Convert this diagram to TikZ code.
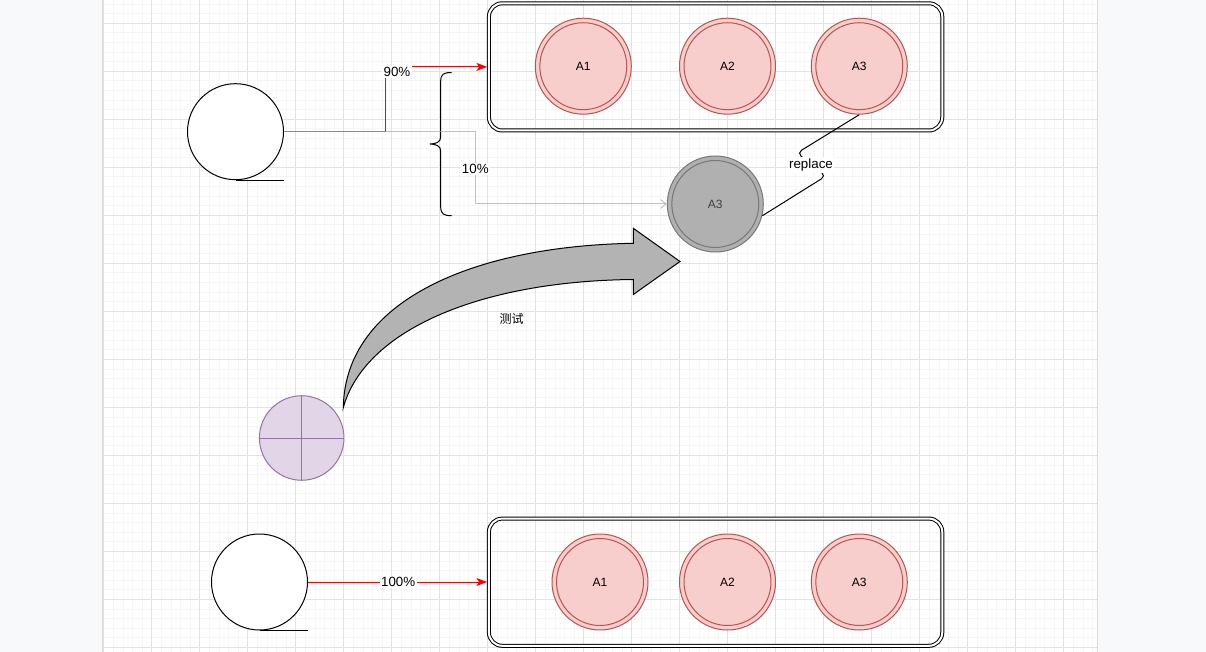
\documentclass[tikz,border=0pt]{standalone}
\usepackage{fontspec}
\setmainfont{Liberation Sans}
\newfontfamily\cjk{Noto Sans CJK SC}
\usetikzlibrary{arrows.meta,calc}
\definecolor{pagebg}{HTML}{F8F9FA}
\definecolor{minorg}{HTML}{F6F6F6}
\definecolor{majorg}{HTML}{E2E2E2}
\definecolor{redfill}{HTML}{F8CECC}
\definecolor{redline}{HTML}{B85450}
\definecolor{grayfill}{HTML}{B0B0B0}
\definecolor{grayline}{HTML}{777777}
\definecolor{edgegray}{HTML}{A8A8A8}
\definecolor{purfill}{HTML}{E1D5E7}
\definecolor{purline}{HTML}{9673A6}
\definecolor{arrowfill}{HTML}{B3B3B3}
\tikzset{
  minorgrid/.style={draw=minorg, line width=0.6pt},
  majorgrid/.style={draw=majorg, line width=0.75pt},
  container/.style={rectangle, draw=black, line width=0.75pt, double=white, double distance=1.5pt,
    rounded corners=10pt, minimum width=340pt, minimum height=95.4pt, inner sep=0pt},
  redcirc/.style={circle, draw=redline, fill=redfill, line width=0.75pt, minimum size=72pt, inner sep=0pt, text=black},
  graycirc/.style={circle, draw=grayline, fill=grayfill, line width=0.75pt, minimum size=72pt, inner sep=0pt, text=black!75},
  tape/.style={circle, draw=black, fill=white, line width=0.75pt, minimum size=72pt, inner sep=0pt},
  purcirc/.style={circle, draw=purline, fill=purfill, line width=0.75pt, minimum size=63.4pt, inner sep=0pt},
  rededge/.style={draw=red, line width=0.75pt},
  grayedge/.style={draw=edgegray, line width=0.75pt, opacity=0.7},
  lbl/.style={fill=white, inner sep=1pt, text=black, font=\fontsize{10}{12}\selectfont},
  redtip/.style={-{Stealth[length=8pt,width=6pt,inset=2pt]}},
  graytip/.style={-{Straight Barb[length=4pt,width=6.5pt]}},
}
\begin{document}
\begin{tikzpicture}[x=0.75pt,y=-0.75pt,font=\fontsize{9}{11}\selectfont]
\useasboundingbox (0,0) rectangle (1206,652);
% background and page
\fill[pagebg] (0,0) rectangle (1206,652);
\fill[white] (102,0) rectangle (1097,652);
\foreach \i in {0,...,103} \draw[minorgrid] ({103.7+9.6*\i},0) -- ({103.7+9.6*\i},652);
\foreach \j in {0,...,67} \draw[minorgrid] (102,{4.1+9.6*\j}) -- (1097,{4.1+9.6*\j});
\foreach \i in {0,...,20} \draw[majorgrid] ({103.7+48*\i},0) -- ({103.7+48*\i},652);
\foreach \j in {0,...,13} \draw[majorgrid] (102,{23.3+48*\j}) -- (1097,{23.3+48*\j});
\draw[draw=black!15, line width=0.75pt] (102,0) -- (102,652) (1097,0) -- (1097,652);

% top container and circles
\node[container] (box1) at (715.6,66.9) {};
\node[redcirc] (a1) at (583.3,66.2) {A1};
\node[redcirc] (a2) at (727.5,66.2) {A2};
\node[redcirc] (a3) at (859.3,66.2) {A3};
% bottom container and circles
\node[container] (box2) at (715.6,582.2) {};
\node[redcirc] (b1) at (600,582) {A1};
\node[redcirc] (b2) at (727.5,582) {A2};
\node[redcirc] (b3) at (859.3,582) {A3};
\foreach \n in {a1,a2,a3,b1,b2,b3}
  \draw[redline, line width=0.75pt] (\n.center) circle[radius=32.6pt];

% gray A3
\node[graycirc] (g3) at (715.3,204) {A3};
\draw[grayline, line width=0.75pt] (g3.center) circle[radius=32.6pt];

% tapes
\node[tape] (t1) at (235.5,131.7) {};
\draw[line width=0.75pt] (t1.south) -- (t1.south -| t1.east);
\node[tape] (t2) at (259.5,582) {};
\draw[line width=0.75pt] (t2.south) -- (t2.south -| t2.east);

% purple circle
\node[purcirc] (p) at (301.7,438) {};
\draw[purline, line width=0.75pt] (p.north) -- (p.south) (p.west) -- (p.east);

% curly brace
\draw[line width=0.75pt] (451.7,72.5) .. controls (444,72.5) and (440.7,74) .. (440.7,81)
  -- (440.7,137) .. controls (440.7,142) and (436,144) .. (430,144)
  .. controls (436,144) and (440.7,146) .. (440.7,151)
  -- (440.7,207) .. controls (440.7,214) and (444,215.7) .. (451.7,215.7);

% edges from top tape
\coordinate (rb) at (385.5,66.9);
\coordinate (gb) at (475.3,204);
\draw[rededge, redtip, shorten >=1pt] (t1.east) -| (rb) -- (box1.west);
\draw[grayedge, graytip] (t1.east) -| (gb) -- (g3.west);
\node[lbl] at (397,72) {90\%};
\node[lbl] at (475.3,169) {10\%};

% bottom edge
\draw[rededge, redtip, shorten >=1pt] (t2.east) -- (box2.west |- t2.east) node[lbl, midway] {100\%};

% replace connector
\draw[line width=0.75pt, rounded corners=4pt] (a3.south) -- (797,153) -- (826,176) -- (g3.-14);
\node[lbl] at (811,165) {replace};

% big curved arrow
\draw[fill=arrowfill, line width=0.75pt, line join=miter]
  (343.3,407.5) .. controls (345,300) and (475,246) .. (633.3,243.3)
  -- (633.3,228.3) -- (680,261.5) -- (633.3,294.5) -- (633.3,279.5)
  .. controls (480,281) and (365,330) .. (343.3,407.5) -- cycle;
\node[text=black] at (511.7,319) {\cjk 测试};
\end{tikzpicture}
\end{document}
